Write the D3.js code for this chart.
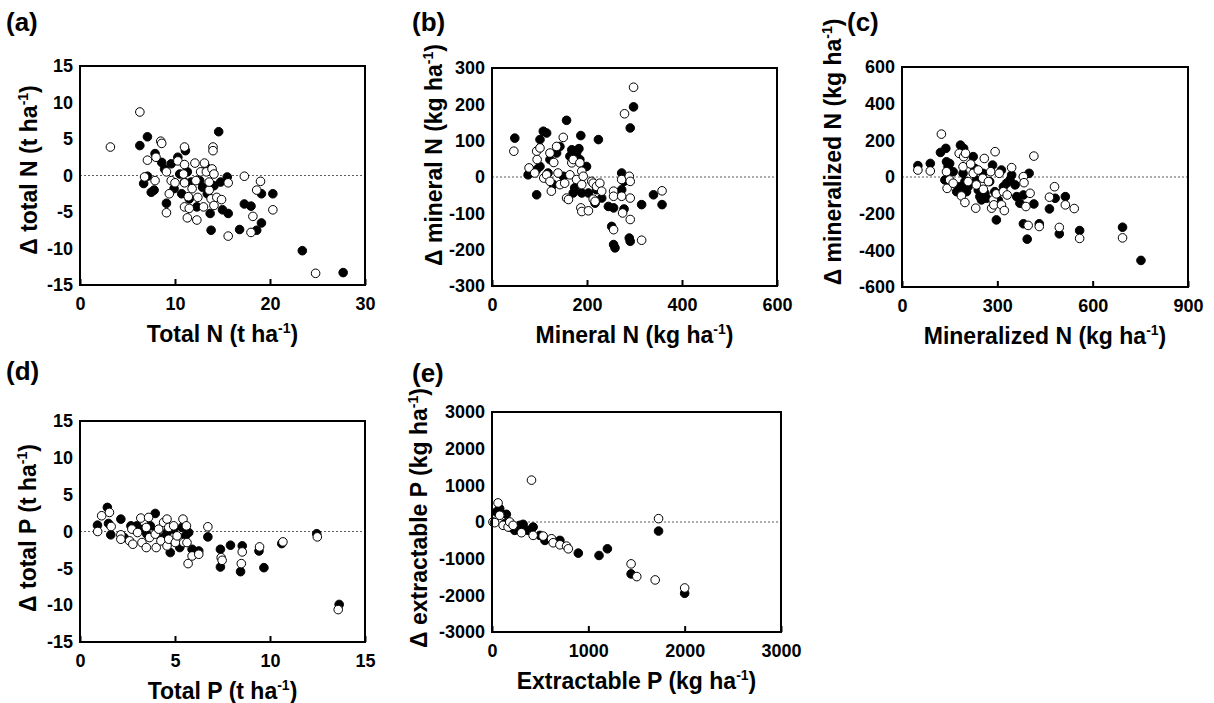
<!DOCTYPE html>
<html><head><meta charset="utf-8">
<script src="https://cdn.jsdelivr.net/npm/d3@7"></script>
<style>
body{margin:0;background:#fff;}
svg{display:block;}
text{font-family:"Liberation Sans",Arial,sans-serif;font-weight:bold;fill:#000;}
</style>
</head><body>
<svg id="chart" width="1214" height="703"></svg>
<script>
// ---------- DATA ----------
// (a) Total N (t/ha) vs Δ total N
const aFilled = [[6.3,4.1],[7.1,5.3],[6.7,-1.1],[7.1,-0.1],[7.5,-2.3],[7.8,-2.0],[7.9,3.0],[8.6,1.8],[8.9,0.9],[9.1,-3.8],[9.6,1.6],[9.9,-1.8],[10.3,2.5],[10.5,0.2],[10.7,-2.5],[11.0,-0.9],[11.1,3.4],[11.3,0.5],[11.5,-3.2],[11.7,-0.9],[12.3,-4.3],[12.6,-0.7],[12.9,-1.6],[13.3,1.1],[13.4,-2.5],[13.7,-5.2],[13.8,-7.5],[14.1,-1.4],[14.6,6.0],[14.8,-0.9],[15.0,-4.7],[15.5,-0.2],[15.6,-5.2],[16.8,-7.4],[17.3,-3.9],[18.0,-4.2],[18.6,-7.5],[19.1,-2.5],[19.1,-6.5],[20.3,-2.5],[23.4,-10.3],[27.7,-13.3]];
const aOpen = [[3.2,3.9],[6.3,8.7],[6.8,-0.2],[7.1,2.1],[7.9,-0.7],[8.0,2.5],[8.5,4.7],[8.6,4.4],[9.1,0.5],[9.1,-5.1],[9.4,-2.5],[9.6,-0.7],[10.0,-1.0],[10.3,2.0],[10.9,0.2],[11.0,-1.0],[11.0,3.9],[11.0,1.5],[11.0,-4.3],[11.3,-5.8],[11.4,-2.9],[11.5,-4.5],[11.8,-1.8],[12.1,1.7],[12.2,-0.7],[12.3,-6.1],[12.4,-3.0],[12.7,0.5],[13.0,-4.3],[13.1,1.7],[13.3,0.5],[13.6,-2.0],[13.6,-0.9],[13.8,-3.2],[13.9,0.9],[14.0,3.9],[14.0,3.4],[14.1,0.2],[14.1,-4.1],[14.4,-3.0],[14.9,-3.3],[15.6,-1.0],[15.6,-8.3],[17.3,-0.1],[18.0,-7.8],[18.2,-5.6],[18.6,-2.0],[19.0,-0.8],[20.3,-4.7],[24.8,-13.4]];

// (b) Mineral N (kg/ha) vs Δ mineral N
const bFilled = [[48,107],[76,6],[94,20],[94,-49],[101,103],[108,126],[115,121],[101,29],[122,48],[118,11],[129,-21],[136,66],[143,84],[150,2],[157,156],[164,57],[168,75],[171,-44],[174,-30],[178,66],[183,78],[187,114],[185,48],[189,-44],[199,29],[203,-44],[220,-35],[224,103],[217,-72],[231,-58],[245,-81],[256,-85],[252,-136],[256,-186],[259,-195],[273,-35],[273,11],[278,-12],[278,-88],[291,135],[298,193],[289,-168],[291,-177],[315,-76],[340,-49],[358,-76]];
const bOpen = [[46,71],[78,25],[94,71],[95,48],[90,11],[101,80],[109,-3],[115,6],[122,-12],[125,-39],[122,66],[130,40],[136,84],[139,11],[143,-21],[150,109],[153,-17],[157,-58],[161,-62],[164,6],[168,39],[171,48],[178,-7],[185,39],[189,16],[192,2],[189,-21],[187,-85],[189,-95],[203,-93],[210,-12],[213,-17],[220,-26],[227,-17],[231,-39],[213,-61],[217,-67],[256,-39],[256,-53],[256,-145],[273,-53],[275,-99],[273,-7],[279,174],[289,2],[291,-12],[291,-58],[291,-117],[298,247],[315,-174],[358,-38]];

// (c) Mineralized N (kg/ha) vs Δ mineralized N
const cFilled = [[50,62],[89,74],[121,134],[138,156],[140,83],[145,56],[150,74],[135,-16],[161,29],[172,-80],[182,-53],[184,174],[194,156],[192,20],[198,-25],[203,-80],[208,-53],[224,111],[229,47],[234,-16],[240,-71],[245,-107],[250,-125],[255,20],[261,-89],[266,-116],[276,-25],[285,65],[292,-80],[297,-234],[303,-125],[313,38],[319,-53],[329,-34],[340,-16],[345,11],[356,-43],[361,-107],[371,-143],[382,-98],[382,-255],[394,-339],[400,20],[415,-147],[432,-255],[464,-174],[482,-116],[495,-310],[514,-107],[559,-292],[694,-274],[752,-455]];
const cOpen = [[50,38],[89,33],[124,234],[140,29],[142,-62],[150,-16],[161,-34],[180,129],[187,-103],[192,56],[194,111],[198,-139],[200,129],[208,-25],[216,71],[224,20],[232,-170],[234,-43],[240,38],[254,-7],[256,-67],[259,101],[272,-25],[279,29],[282,-170],[287,-125],[289,-152],[293,138],[297,-92],[306,20],[313,-152],[319,-80],[322,-183],[331,-98],[345,51],[382,2],[384,-31],[390,-161],[397,-264],[403,-89],[415,114],[432,-270],[464,-110],[480,-53],[495,-275],[514,-152],[542,-172],[559,-335],[694,-332]];

// (d) Total P (t/ha) vs Δ total P
const dFilled = [[0.92,0.86],[1.44,3.27],[1.50,1.09],[1.62,-0.45],[2.15,1.68],[2.32,-0.82],[2.68,0.77],[2.99,0.77],[3.35,0.32],[3.52,-0.36],[3.70,0.77],[3.96,2.45],[4.05,0.09],[4.40,-0.82],[4.58,-0.14],[4.75,-2.86],[4.93,0.32],[5.25,-2.18],[5.37,0.55],[5.55,-0.59],[5.72,-0.14],[5.90,-2.41],[6.25,-2.64],[6.73,-0.73],[7.39,-2.41],[7.39,-4.82],[7.92,-1.86],[8.54,-1.95],[8.45,-5.45],[9.42,-2.64],[9.68,-4.91],[10.62,-1.64],[12.46,-0.3],[13.64,-9.9]];
const dOpen = [[0.93,0],[1.14,2.14],[1.55,2.59],[1.64,0.68],[2.15,-0.45],[2.15,-1.05],[2.61,-1.27],[2.78,-1.73],[2.73,0.32],[3.03,-0.14],[3.26,-1.5],[3.20,1.82],[3.49,0.55],[3.49,-2.18],[3.61,1.91],[3.66,-0.82],[3.96,-0.36],[4.01,-2.18],[4.14,0.32],[4.26,-1.27],[4.40,1.23],[4.58,1.68],[4.58,-1.95],[4.67,0.55],[4.67,-1.05],[4.93,0.77],[5.02,-1.5],[5.11,-0.59],[5.42,1.68],[5.46,-1.5],[5.60,0.77],[5.63,-1.5],[5.69,-4.36],[5.90,-3.32],[6.25,-3.09],[6.73,0.64],[7.43,-3.55],[7.48,-3.91],[8.49,-4.36],[8.54,-2.77],[9.45,-2.09],[10.68,-1.41],[12.49,-0.73],[13.59,-10.6]];

// (e) Extractable P (kg/ha) vs Δ extractable P
const eFilled = [[45,274],[80,365],[97,228],[149,210],[132,-46],[184,-137],[236,-228],[288,-91],[323,-64],[375,-228],[427,-137],[497,-365],[549,-502],[705,-502],[896,-849],[1111,-913],[1198,-731],[1444,-1416],[1729,-247],[2000,-1945]];
const eOpen = [[10,0],[28,-18],[63,521],[80,183],[115,-91],[167,-137],[184,0],[219,-91],[306,-292],[410,1142],[427,-365],[531,-384],[618,-457],[635,-566],[705,-621],[774,-657],[792,-731],[1444,-1142],[1503,-1489],[1694,-1580],[1729,91],[2000,-1799]];

// ---------- TICKS & LABELS ----------
const aXTicks = [0,10,20,30], aYTicks = [-15,-10,-5,0,5,10,15];
const bXTicks = [0,200,400,600], bYTicks = [-300,-200,-100,0,100,200,300];
const cXTicks = [0,300,600,900], cYTicks = [-600,-400,-200,0,200,400,600];
const dXTicks = [0,5,10,15], dYTicks = [-15,-10,-5,0,5,10,15];
const eXTicks = [0,1000,2000,3000], eYTicks = [-3000,-2000,-1000,0,1000,2000,3000];

const panelLabels = ["(a)","(b)","(c)","(d)","(e)"];
const xTitles = ["Total N (t ha","Mineral N (kg ha","Mineralized N (kg ha","Total P (t ha","Extractable P (kg ha"];
const yTitles = ["\u0394 total N (t ha","\u0394 mineral N (kg ha","\u0394 mineralized N (kg ha","\u0394 total P (t ha","\u0394 extractable P (kg ha"];

// ---------- LAYOUT ----------
const panels = [
  {filled:aFilled, open:aOpen, xt:aXTicks, yt:aYTicks, box:{l:80,t:66,r:365,b:285}, lab:{x:6,y:31}, yTitle:{x:37,y:170}},
  {filled:bFilled, open:bOpen, xt:bXTicks, yt:bYTicks, box:{l:492,t:68,r:777,b:286}, lab:{x:412,y:31}, yTitle:{x:442,y:155}},
  {filled:cFilled, open:cOpen, xt:cXTicks, yt:cYTicks, box:{l:902,t:67,r:1188,b:287}, lab:{x:847,y:31}, yTitle:{x:841,y:152}},
  {filled:dFilled, open:dOpen, xt:dXTicks, yt:dYTicks, box:{l:80,t:421,r:365,b:642}, lab:{x:6,y:380}, yTitle:{x:36,y:528}},
  {filled:eFilled, open:eOpen, xt:eXTicks, yt:eYTicks, box:{l:492,t:412,r:781,b:632}, lab:{x:412,y:382}, yTitle:{x:427,y:518}}
];

const svg = d3.select("#chart");
const TICK_FS = 18, TITLE_FS = 23, SUP_FS = 14, LAB_FS = 26, R = 4.3;

function addTitle(sel, main){
  sel.text(null);
  sel.append("tspan").text(main);
  sel.append("tspan").attr("font-size", SUP_FS).attr("dy", -9).text("-1");
  sel.append("tspan").attr("dy", 9).text(")");
}

panels.forEach((p, i) => {
  const bx = p.box;
  const x = d3.scaleLinear().domain(d3.extent(p.xt)).range([bx.l, bx.r]);
  const y = d3.scaleLinear().domain(d3.extent(p.yt)).range([bx.b, bx.t]);
  const g = svg.append("g");

  // zero reference line
  g.append("line")
    .attr("x1", bx.l).attr("x2", bx.r).attr("y1", y(0)).attr("y2", y(0))
    .attr("stroke", "#333").attr("stroke-width", 0.8).attr("stroke-dasharray", "2,2");

  // x axis (ticks inside)
  const xa = g.append("g").attr("transform", `translate(0,${bx.b})`)
    .call(d3.axisBottom(x).tickValues(p.xt).tickSizeInner(-6).tickSizeOuter(0).tickPadding(12).tickFormat(d => String(d)));
  xa.select(".domain").remove();
  xa.selectAll("line").attr("stroke", "#000").attr("stroke-width", 2);
  xa.selectAll("text").attr("font-size", TICK_FS).attr("font-family", null).attr("fill", "#000");

  // y axis
  const ya = g.append("g").attr("transform", `translate(${bx.l},0)`)
    .call(d3.axisLeft(y).tickValues(p.yt).tickSizeInner(0).tickSizeOuter(0).tickPadding(7).tickFormat(d => String(d)));
  ya.select(".domain").remove();
  ya.selectAll("line").remove();
  ya.selectAll("text").attr("font-size", TICK_FS).attr("font-family", null).attr("fill", "#000");

  // points: filled then open
  g.append("g").selectAll("circle").data(p.filled).join("circle")
    .attr("cx", d => x(d[0])).attr("cy", d => y(d[1])).attr("r", R)
    .attr("fill", "#000").attr("stroke", "#000").attr("stroke-width", 1);
  g.append("g").selectAll("circle").data(p.open).join("circle")
    .attr("cx", d => x(d[0])).attr("cy", d => y(d[1])).attr("r", R)
    .attr("fill", "#fff").attr("stroke", "#000").attr("stroke-width", 1);

  // frame
  g.append("rect").attr("x", bx.l).attr("y", bx.t).attr("width", bx.r - bx.l).attr("height", bx.b - bx.t)
    .attr("fill", "none").attr("stroke", "#000").attr("stroke-width", 2);

  // x title
  g.append("text").attr("x", (bx.l + bx.r) / 2).attr("y", bx.b + 57).attr("text-anchor", "middle")
    .attr("font-size", TITLE_FS).call(s => addTitle(s, xTitles[i]));

  // y title
  g.append("text").attr("transform", `translate(${p.yTitle.x},${p.yTitle.y}) rotate(-90)`).attr("text-anchor", "middle")
    .attr("font-size", TITLE_FS).call(s => addTitle(s, yTitles[i]));

  // panel label
  g.append("text").attr("x", p.lab.x).attr("y", p.lab.y).attr("font-size", LAB_FS).text(panelLabels[i]);
});
</script>
</body></html>
